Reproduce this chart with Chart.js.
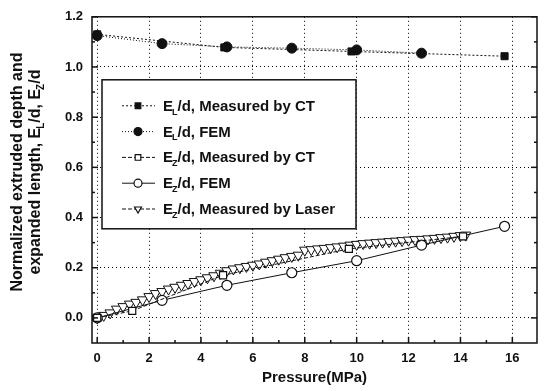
<!DOCTYPE html>
<html><head><meta charset="utf-8">
<script src="https://cdn.jsdelivr.net/npm/chart.js@4/dist/chart.umd.min.js"></script>
<style>html,body{margin:0;padding:0;background:#fff;}canvas{display:block;}</style>
</head><body>
<canvas id="c" width="544" height="391"></canvas>
<script>
// ---- data ----
const xTicks = [0, 2, 4, 6, 8, 10, 12, 14, 16];
const yTicks = [0.0, 0.2, 0.4, 0.6, 0.8, 1.0, 1.2];

const elCTx = [0, 4.9, 9.8, 15.7];
const elCTy = [1.13, 1.078, 1.062, 1.043];

const elFEMx = [0, 2.5, 5, 7.5, 10, 12.5];
const elFEMy = [1.125, 1.093, 1.08, 1.075, 1.068, 1.055];

const ezCTx = [0, 1.35, 4.85, 9.7, 14.1];
const ezCTy = [0, 0.028, 0.17, 0.275, 0.325];

const ezFEMx = [0, 2.5, 5, 7.5, 10, 12.5, 15.7];
const ezFEMy = [0, 0.07, 0.13, 0.18, 0.228, 0.29, 0.365];

const laserX = [0,0.25,0.5,0.75,1.0,1.25,1.5,1.75,2.0,2.25,2.5,2.75,3.0,3.25,3.5,3.75,4.0,4.25,4.5,4.75,5.0,5.25,5.5,5.75,6.0,6.25,6.5,6.75,7.0,7.25,7.5,7.75,8.0,8.25,8.5,8.75,9.0,9.25,9.5,9.75,10.0,10.25,10.5,10.75,11.0,11.25,11.5,11.75,12.0,12.25,12.5,12.75,13.0,13.25,13.5,13.75,14.0,14.2];
const laserY = [0.0,0.01,0.02,0.035,0.045,0.055,0.062,0.072,0.085,0.097,0.105,0.115,0.122,0.13,0.137,0.145,0.152,0.16,0.168,0.178,0.188,0.195,0.2,0.205,0.21,0.215,0.222,0.228,0.234,0.24,0.245,0.25,0.27,0.272,0.275,0.277,0.28,0.283,0.286,0.29,0.293,0.296,0.298,0.3,0.302,0.304,0.306,0.308,0.31,0.312,0.313,0.315,0.317,0.32,0.322,0.325,0.328,0.33];

const legendItems = [
  {sub:'L', text:'/d, Measured by CT', ds:0},
  {sub:'L', text:'/d, FEM', ds:1},
  {sub:'Z', text:'/d, Measured by CT', ds:2},
  {sub:'Z', text:'/d, FEM', ds:3},
  {sub:'Z', text:'/d, Measured by Laser', ds:4}
];

const pts = (xs, ys) => xs.map((x, i) => ({x: x, y: ys[i]}));
const FONT = '"Liberation Sans", Arial, sans-serif';
const INK = '#111';

const datasets = [
  {data: pts(elCTx, elCTy), pointStyle:'rect', pointRadius:5, backgroundColor:INK, borderColor:INK, borderWidth:1, borderDash:[2,2], pointBorderWidth:1},
  {data: pts(elFEMx, elFEMy), pointStyle:'circle', pointRadius:5, backgroundColor:INK, borderColor:INK, borderWidth:1, borderDash:[1,2], pointBorderWidth:1},
  {data: pts(ezCTx, ezCTy), pointStyle:'rect', pointRadius:5, backgroundColor:'#fff', borderColor:INK, borderWidth:1, borderDash:[4,2], pointBorderWidth:1.2},
  {data: pts(ezFEMx, ezFEMy), pointStyle:'circle', pointRadius:5, backgroundColor:'#fff', borderColor:INK, borderWidth:1, pointBorderWidth:1.2},
  {data: pts(laserX, laserY), pointStyle:'triangle', pointRotation:180, pointRadius:6, backgroundColor:'#fff', borderColor:INK, borderWidth:0.8, borderDash:[4,2], pointBorderWidth:1}
];

function drawRich(ctx, y, sub, text, size) {
  const subSize = Math.round(size * 0.62);
  ctx.font = 'bold ' + size + 'px ' + FONT;
  const wE = ctx.measureText('E').width;
  const wT = ctx.measureText(text).width;
  ctx.font = 'bold ' + subSize + 'px ' + FONT;
  const wS = ctx.measureText(sub).width;
  return {w: wE + wS + wT - 1, draw: function(x0) {
    ctx.textAlign = 'left'; ctx.textBaseline = 'alphabetic';
    ctx.font = 'bold ' + size + 'px ' + FONT;
    ctx.fillText('E', x0, y);
    ctx.font = 'bold ' + subSize + 'px ' + FONT;
    ctx.fillText(sub, x0 + wE - 1, y + size * 0.25);
    ctx.font = 'bold ' + size + 'px ' + FONT;
    ctx.fillText(text, x0 + wE + wS - 1, y);
  }};
}

const decor = {
  id: 'decor',
  afterDraw(chart) {
    const ctx = chart.ctx, a = chart.chartArea;
    const xs = chart.scales.x, ys = chart.scales.y;
    ctx.save();
    // frame
    ctx.strokeStyle = INK; ctx.lineWidth = 1.5; ctx.setLineDash([]);
    ctx.strokeRect(a.left, a.top, a.right - a.left, a.bottom - a.top);
    // inward ticks
    for (let v = 0; v <= 16; v++) {
      const px = xs.getPixelForValue(v), L = (v % 2 === 0) ? 6 : 3;
      ctx.beginPath(); ctx.moveTo(px, a.bottom); ctx.lineTo(px, a.bottom - L); ctx.stroke();
    }
    for (let k = 0; k <= 12; k++) {
      const py = ys.getPixelForValue(k / 10), L = (k % 2 === 0) ? 6 : 3;
      ctx.beginPath(); ctx.moveTo(a.left, py); ctx.lineTo(a.left + L, py); ctx.stroke();
      ctx.beginPath(); ctx.moveTo(a.right, py); ctx.lineTo(a.right - L, py); ctx.stroke();
    }
    // legend
    const bx = a.left + 10, by = a.top + 63, bw = 254, bh = 149;
    ctx.fillStyle = '#fff'; ctx.fillRect(bx, by, bw, bh);
    ctx.strokeStyle = INK; ctx.lineWidth = 1.5; ctx.strokeRect(bx, by, bw, bh);
    legendItems.forEach((it, i) => {
      const ds = chart.data.datasets[it.ds];
      const cy = by + 26 + i * 25.8;
      ctx.strokeStyle = INK; ctx.lineWidth = 1;
      ctx.setLineDash(ds.borderDash || []);
      ctx.beginPath(); ctx.moveTo(bx + 20, cy); ctx.lineTo(bx + 53, cy); ctx.stroke();
      ctx.setLineDash([]);
      ctx.fillStyle = ds.backgroundColor; ctx.strokeStyle = INK; ctx.lineWidth = 1.2;
      Chart.helpers.drawPoint(ctx, {pointStyle: ds.pointStyle, radius: 4, rotation: ds.pointRotation || 0, borderWidth: 1.2}, bx + 36, cy);
      ctx.fillStyle = INK;
      drawRich(ctx, cy + 5, it.sub, it.text, 15).draw(bx + 61);
    });
    // y-axis title (two lines, rotated)
    ctx.fillStyle = INK;
    const cyT = 172;
    ctx.save();
    ctx.translate(22, cyT); ctx.rotate(-Math.PI / 2);
    ctx.font = 'bold 16px ' + FONT; ctx.textAlign = 'center'; ctx.textBaseline = 'alphabetic';
    ctx.fillText('Normalized extruded depth and', 0, 0);
    ctx.restore();
    ctx.save();
    ctx.translate(40, cyT); ctx.rotate(-Math.PI / 2);
    const p1 = drawRich(ctx, 0, 'L', '/d, ', 16);
    const p2 = drawRich(ctx, 0, 'Z', '/d', 16);
    ctx.font = 'bold 16px ' + FONT;
    const pre = 'expanded length, ';
    const wPre = ctx.measureText(pre).width;
    const total = wPre + p1.w + p2.w;
    const x0 = -total / 2;
    ctx.textAlign = 'left'; ctx.fillText(pre, x0, 0);
    p1.draw(x0 + wPre);
    p2.draw(x0 + wPre + p1.w);
    ctx.restore();
    ctx.restore();
  }
};

const bg = {id:'bg', beforeDraw(chart){const c=chart.ctx; c.save(); c.fillStyle='#fff'; c.fillRect(0,0,chart.width,chart.height); c.restore();}};

new Chart(document.getElementById('c'), {
  type: 'line',
  data: {datasets: datasets},
  options: {
    responsive: false, animation: false,
    layout: {padding: {top: 13, right: 6, left: 0, bottom: 0}},
    plugins: {legend: {display: false}, tooltip: {enabled: false}},
    elements: {line: {tension: 0}},
    scales: {
      x: {
        type: 'linear', min: -0.2, max: 16.95,
        afterBuildTicks: s => { s.ticks = xTicks.map(v => ({value: v})); },
        afterFit: s => { s.height = 48; },
        grid: {color: '#000', lineWidth: 1, drawTicks: false},
        border: {display: false, dash: [1, 3]},
        ticks: {padding: 8, color: INK, font: {family: FONT, size: 13, weight: 'bold'}, callback: v => String(v)},
        title: {display: true, text: 'Pressure(MPa)', color: INK, padding: {top: 8}, font: {family: FONT, size: 15, weight: 'bold'}}
      },
      y: {
        type: 'linear', min: -0.1, max: 1.2,
        afterBuildTicks: s => { s.ticks = yTicks.map(v => ({value: v})); },
        afterFit: s => { s.width = 92; },
        grid: {color: '#000', lineWidth: 1, drawTicks: false},
        border: {display: false, dash: [1, 3]},
        ticks: {padding: 9, color: INK, font: {family: FONT, size: 13, weight: 'bold'}, callback: v => v.toFixed(1)}
      }
    }
  },
  plugins: [bg, decor]
});
</script>
</body></html>
